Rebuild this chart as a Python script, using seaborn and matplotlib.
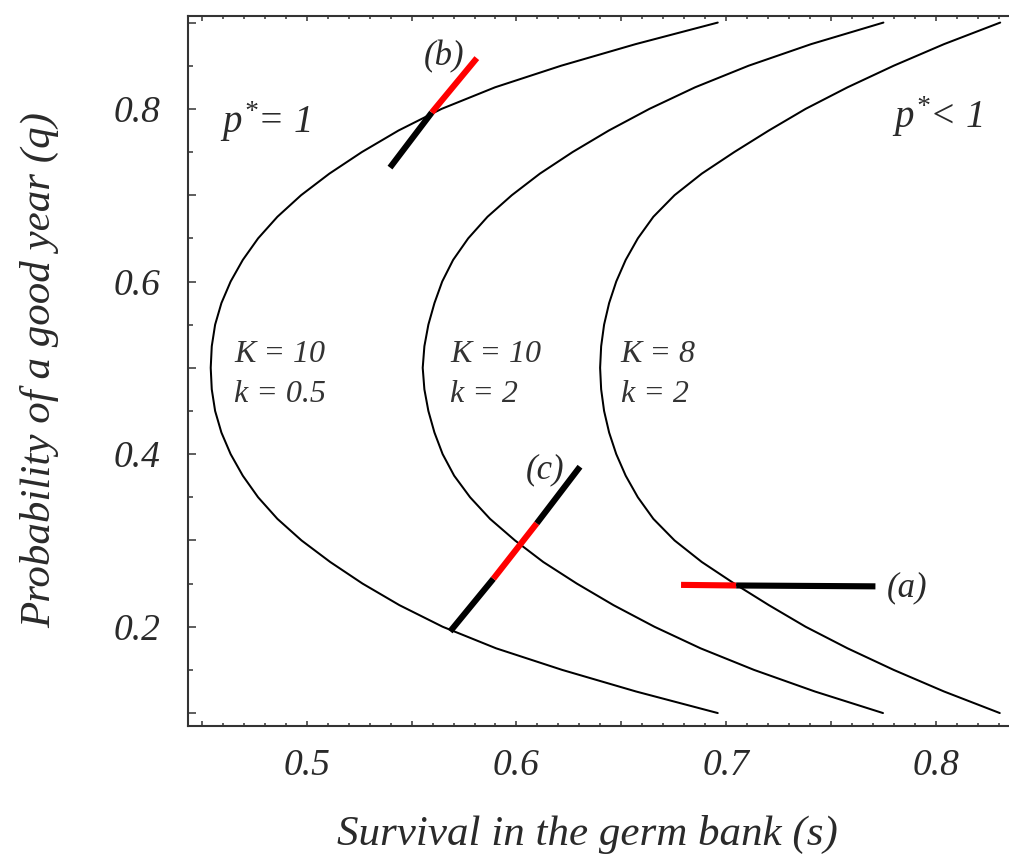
import matplotlib
matplotlib.use("Agg")
import matplotlib.pyplot as plt
import seaborn as sns
import pandas as pd
from matplotlib.ticker import MultipleLocator

# ---------------- data ----------------
q_levels = [0.900, 0.875, 0.850, 0.825, 0.800, 0.775, 0.750, 0.725, 0.700, 0.675,
            0.650, 0.625, 0.600, 0.575, 0.550, 0.525, 0.500, 0.475, 0.450, 0.425,
            0.400, 0.375, 0.350, 0.325, 0.300, 0.275, 0.250, 0.225, 0.200, 0.175,
            0.150, 0.125, 0.100]
s_K10_k05 = [0.6960, 0.6568, 0.6213, 0.5898, 0.5643, 0.5438, 0.5263, 0.5108, 0.4973, 0.4860,
             0.4768, 0.4695, 0.4637, 0.4593, 0.4563, 0.4547, 0.4542, 0.4547, 0.4563, 0.4593,
             0.4637, 0.4695, 0.4768, 0.4860, 0.4975, 0.5112, 0.5266, 0.5442, 0.5648, 0.5903,
             0.6218, 0.6570, 0.6960]
s_K10_k2 = [0.7750, 0.7405, 0.7107, 0.6852, 0.6634, 0.6441, 0.6268, 0.6112, 0.5978, 0.5862,
            0.5770, 0.5698, 0.5646, 0.5609, 0.5580, 0.5561, 0.5553, 0.5561, 0.5580, 0.5609,
            0.5648, 0.5703, 0.5779, 0.5874, 0.5993, 0.6128, 0.6288, 0.6463, 0.6658, 0.6878,
            0.7133, 0.7423, 0.7748]
s_K8_k2 = [0.8307, 0.8039, 0.7799, 0.7579, 0.7379, 0.7204, 0.7039, 0.6884, 0.6754, 0.6653,
           0.6579, 0.6521, 0.6476, 0.6442, 0.6418, 0.6404, 0.6399, 0.6404, 0.6418, 0.6442,
           0.6476, 0.6521, 0.6579, 0.6653, 0.6754, 0.6884, 0.7039, 0.7204, 0.7379, 0.7579,
           0.7799, 0.8039, 0.8305]

# perturbation segments (s, q)
a_red_s, a_red_q = [0.6785, 0.7048], [0.2485, 0.2478]
a_blk_s, a_blk_q = [0.7048, 0.7712], [0.2478, 0.2468]
b_blk_s, b_blk_q = [0.5397, 0.5596], [0.7320, 0.7957]
b_red_s, b_red_q = [0.5596, 0.5811], [0.7957, 0.8588]
c_blk1_s, c_blk1_q = [0.5684, 0.5890], [0.1946, 0.2556]
c_red_s, c_red_q = [0.5890, 0.6097], [0.2556, 0.3198]
c_blk2_s, c_blk2_q = [0.6097, 0.6303], [0.3198, 0.3854]

x_ticks = [0.45, 0.50, 0.55, 0.60, 0.65, 0.70, 0.75, 0.80]
x_ticklabels = ["", "0.5", "", "0.6", "", "0.7", "", "0.8"]
y_ticks = [0.1, 0.2, 0.3, 0.4, 0.5, 0.6, 0.7, 0.8, 0.9]
y_ticklabels = ["", "0.2", "", "0.4", "", "0.6", "", "0.8", ""]

# ---------------- style ----------------
sns.set_theme(style="ticks")
plt.rcParams["font.family"] = ["Liberation Serif", "DejaVu Serif"]
plt.rcParams["font.style"] = "italic"
plt.rcParams["mathtext.fontset"] = "custom"
plt.rcParams["mathtext.rm"] = "Liberation Serif"
plt.rcParams["mathtext.it"] = "Liberation Serif:italic"

TXT = "#2a2a2a"
fig = plt.figure(figsize=(10.09, 8.61), dpi=100)
ax = fig.add_axes([0.1866, 0.1568, 1.0 - 0.1866, 0.9818 - 0.1568])

curves = pd.concat([
    pd.DataFrame({"s": s_K10_k05, "q": q_levels, "curve": "K10k05"}),
    pd.DataFrame({"s": s_K10_k2, "q": q_levels, "curve": "K10k2"}),
    pd.DataFrame({"s": s_K8_k2, "q": q_levels, "curve": "K8k2"}),
])
for name, grp in curves.groupby("curve"):
    sns.lineplot(data=grp, x="s", y="q", sort=False, estimator=None,
                 color="black", linewidth=1.45, ax=ax, legend=False)

segs = [
    (a_red_s, a_red_q, "#ff0000"), (a_blk_s, a_blk_q, "black"),
    (b_blk_s, b_blk_q, "black"), (b_red_s, b_red_q, "#ff0000"),
    (c_blk1_s, c_blk1_q, "black"), (c_red_s, c_red_q, "#ff0000"),
    (c_blk2_s, c_blk2_q, "black"),
]
for xs, ys, col in segs:
    sns.lineplot(x=xs, y=ys, sort=False, estimator=None, color=col,
                 linewidth=4.4, ax=ax, legend=False, solid_capstyle="butt")

ax.set_xlim(0.4435, 0.8349)
ax.set_ylim(0.085, 0.908)

ax.set_xticks(x_ticks, labels=x_ticklabels)
ax.set_yticks(y_ticks, labels=y_ticklabels)
ax.xaxis.set_minor_locator(MultipleLocator(0.01))
ax.yaxis.set_minor_locator(MultipleLocator(0.05))

ax.tick_params(which="both", direction="in", top=True, right=False,
               color="#333333", width=1.1)
ax.tick_params(axis="x", which="major", length=3.6, pad=16,
               labelsize=27, labelcolor=TXT)
ax.tick_params(axis="x", which="minor", length=2.0)
ax.tick_params(axis="y", which="major", length=5.5, pad=20,
               labelsize=27, labelcolor=TXT)
ax.tick_params(axis="y", which="minor", length=3.6)

for side in ["left", "bottom", "top"]:
    ax.spines[side].set_linewidth(1.5)
    ax.spines[side].set_color("#333333")
ax.spines["right"].set_visible(False)

ax.set_xlabel("Survival in the germ bank (s)", fontsize=31, color=TXT,
              ha="center", va="center")
ax.xaxis.set_label_coords(0.4864, -0.153)
ax.set_ylabel("Probability of a good year (q)", fontsize=31, color=TXT,
              ha="center", va="center")
ax.yaxis.set_label_coords(-0.1807, 0.501)

# annotations
ax.text(0.4587, 0.7722, r"$p^{*}$= 1", fontsize=28, color=TXT, va="baseline", ha="left")
ax.text(0.7792, 0.7780, r"$p^{*}$< 1", fontsize=28, color=TXT, va="baseline", ha="left")

KC = "#333333"
for sx, top, bot in [(0.4655, "K = 10", "k = 0.5"),
                     (0.5683, "K = 10", "k = 2"),
                     (0.6497, "K = 8", "k = 2")]:
    ax.text(sx, 0.5068, top, fontsize=23, color=KC, va="baseline", ha="left")
    ax.text(sx, 0.4608, bot, fontsize=23, color=KC, va="baseline", ha="left")

ax.text(0.5657, 0.851, "(b)", fontsize=25, color=TXT, va="baseline", ha="center")
ax.text(0.6135, 0.372, "(c)", fontsize=25, color=TXT, va="baseline", ha="center")
ax.text(0.7863, 0.2349, "(a)", fontsize=25, color=TXT, va="baseline", ha="center")

fig.savefig("out.png", dpi=100)
